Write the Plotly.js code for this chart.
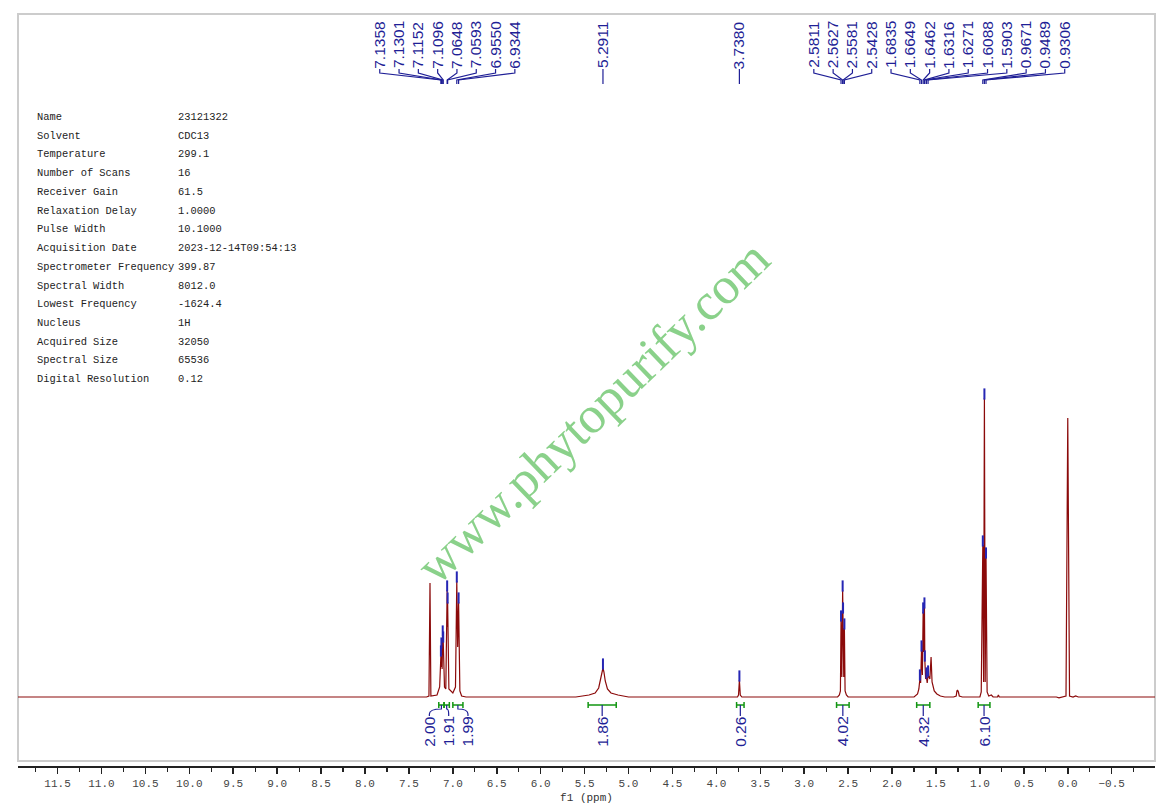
<!DOCTYPE html>
<html>
<head>
<meta charset="utf-8">
<script src="https://cdn.plot.ly/plotly-3.0.1.min.js"></script>
<style>
  html, body { margin: 0; padding: 0; background: #fff; }
  #chart { width: 1169px; height: 809px; }
</style>
</head>
<body>
<div id="chart"></div>
<script>
// spectrum vertices: chemical shift (ppm) and intensity
const shiftPpm = [
  11.95, 7.30, 7.272, 7.260, 7.250, 7.18, 7.150, 7.1358, 7.1325, 7.1301, 7.122, 7.1152, 7.1125, 7.1096,
  7.095, 7.08, 7.0648, 7.062, 7.0593, 7.045, 7.00, 6.970, 6.9550, 6.945, 6.9344, 6.920, 6.90, 6.85,
  5.60, 5.45, 5.38, 5.34, 5.315, 5.300, 5.2911, 5.28, 5.265, 5.24, 5.20, 5.12, 5.00,
  3.76, 3.748, 3.7380, 3.728, 3.71,
  2.62, 2.600, 2.588, 2.5811, 2.5720, 2.5627, 2.5604, 2.5581, 2.5500, 2.5428, 2.535, 2.52, 2.50,
  1.75, 1.71, 1.695, 1.6835, 1.675, 1.6649, 1.655, 1.6462, 1.639, 1.6316, 1.6271, 1.618, 1.6088,
  1.600, 1.5903, 1.570, 1.556, 1.545, 1.52, 1.49, 1.45, 1.40,
  1.30, 1.27, 1.262, 1.255, 1.245, 1.235, 1.20,
  1.00, 0.985, 0.9671, 0.958, 0.9489, 0.940, 0.9306, 0.918, 0.90, 0.87, 0.85, 0.80, 0.79, 0.78,
  0.13, 0.10, 0.07, 0.02, 0.00, -0.02, -0.06, -0.09, -0.12, -0.993
];
const intensity = [
  0, 0, 1, 114, 1, 2, 10, 42, 30, 50, 28, 62, 48, 56,
  10, 8, 107, 70, 95, 8, 4, 10, 116, 50, 95, 6, 1, 0,
  0, 2, 4, 9, 18, 26, 29, 25, 16, 8, 4, 2, 0,
  0, 2, 17, 2, 0,
  0, 2, 6, 77, 20, 107, 80, 85, 20, 69, 6, 2, 0,
  0, 3, 8, 18, 14, 47, 22, 85, 45, 90, 37, 18, 20,
  14, 22, 18, 40, 15, 6, 3, 1, 0,
  0, 1, 6, 7, 5, 1, 0,
  0, 5, 152, 15, 299, 15, 140, 5, 1, 2, 0, 0, 2, 0,
  0, -0.8, 0, 1, 279, 1, 0, 1, 0, 0
];

// peak picking labels, one list per multiplet
const peakGroups = [
  [7.1358, 7.1301, 7.1152, 7.1096, 7.0648, 7.0593, 6.9550, 6.9344],
  [5.2911],
  [3.7380],
  [2.5811, 2.5627, 2.5581, 2.5428],
  [1.6835, 1.6649, 1.6462, 1.6316, 1.6271, 1.6088, 1.5903],
  [0.9671, 0.9489, 0.9306]
];

// integrals
const integralFrom = [7.16, 7.10, 7.00, 5.46, 3.77, 2.632, 1.72, 1.02];
const integralTo = [7.10, 7.04, 6.885, 5.14, 3.685, 2.489, 1.57, 0.886];
const integralValue = ['2.00', '1.91', '1.99', '1.86', '0.26', '4.02', '4.32', '6.10'];

// acquisition parameters
const paramNames = ['Name', 'Solvent', 'Temperature', 'Number of Scans', 'Receiver Gain',
  'Relaxation Delay', 'Pulse Width', 'Acquisition Date', 'Spectrometer Frequency',
  'Spectral Width', 'Lowest Frequency', 'Nucleus', 'Acquired Size', 'Spectral Size',
  'Digital Resolution'];
const paramValues = ['23121322', 'CDC13', '299.1', '16', '61.5', '1.0000', '10.1000',
  '2023-12-14T09:54:13', '399.87', '8012.0', '-1624.4', '1H', '32050', '65536', '0.12'];

// page geometry
const W = 1169, H = 809;
const ml = 18, mr = 14, mt = 14, mb = 42;
const pw = W - ml - mr, ph = H - mt - mb;
const xRange = [11.95, -0.993];
const yDomainBottom = 6 / ph;
const yRange = [-64, 683];

const px = ppm => ml + pw * (xRange[0] - ppm) / (xRange[0] - xRange[1]);
const paperX = v => (v - ml) / pw;
const paperY = v => 1 - (v - mt) / ph;
const P = (x, y) => paperX(x).toFixed(5) + ',' + paperY(y).toFixed(5);

const blue = '#1f1f96';
const green = '#129612';
const gap = 19.3;

const shapes = [];
const annotations = [];

// frame
shapes.push({
  type: 'rect', xref: 'paper', yref: 'paper', x0: 0, x1: 1, y0: yDomainBottom, y1: 1,
  line: { color: '#cccccc', width: 2 }, layer: 'below'
});

// peak labels, spread per multiplet and pushed right when they would collide
let prevEnd = -Infinity;
const markX = [], markY = [];
peakGroups.forEach(group => {
  const ideal = group.map(px);
  const center = ideal.reduce((a, b) => a + b, 0) / ideal.length;
  let start = center - (group.length - 1) * gap / 2;
  if (start < prevEnd + gap) start = prevEnd + gap;
  group.forEach((ppm, i) => {
    const lx = start + i * gap;
    const tx = ideal[i];
    annotations.push({
      xref: 'paper', yref: 'paper', x: paperX(lx), y: paperY(45),
      text: ppm.toFixed(4), textangle: -90, showarrow: false,
      xanchor: 'center', yanchor: 'middle',
      font: { family: 'Liberation Sans, Arial, sans-serif', size: 15.5, color: blue }
    });
    shapes.push({
      type: 'path', xref: 'paper', yref: 'paper',
      path: 'M' + P(lx, 69) + ' L' + P(lx, 73) + ' L' + P(tx, 80) + ' L' + P(tx, 84),
      line: { color: blue, width: 1.2 }
    });
    const k = shiftPpm.indexOf(ppm);
    markX.push(ppm);
    markY.push((k >= 0 ? intensity[k] : 0) + 4);
  });
  prevEnd = start + (group.length - 1) * gap;
});

// integral labels: overlapping ones are merged into a centred cluster
const order = integralFrom.map((_, i) => i);
const clusters = [];
const clusterStart = c => c.ideal.reduce((a, b) => a + b, 0) / c.ideal.length - (c.ideal.length - 1) * gap / 2;
order.forEach(i => {
  const c = px((integralFrom[i] + integralTo[i]) / 2);
  clusters.push({ idx: [i], ideal: [c] });
  while (clusters.length > 1) {
    const a = clusters[clusters.length - 2], b = clusters[clusters.length - 1];
    const aEnd = clusterStart(a) + (a.ideal.length - 1) * gap;
    if (aEnd + gap > clusterStart(b)) {
      clusters.splice(clusters.length - 2, 2, { idx: a.idx.concat(b.idx), ideal: a.ideal.concat(b.ideal) });
    } else break;
  }
});
clusters.forEach(c => {
  const s = clusterStart(c);
  c.idx.forEach((i, j) => {
    const lx = s + j * gap;
    const x0 = px(integralFrom[i]), x1 = px(integralTo[i]);
    const cx = (x0 + x1) / 2;
    shapes.push({
      type: 'path', xref: 'paper', yref: 'paper',
      path: 'M' + P(x0, 702) + ' L' + P(x0, 708) + ' M' + P(x0, 705) + ' L' + P(x1, 705) +
            ' M' + P(x1, 702) + ' L' + P(x1, 708),
      line: { color: green, width: 1.5 }
    });
    shapes.push({
      type: 'path', xref: 'paper', yref: 'paper',
      path: 'M' + P(cx, 705) + ' L' + P(cx, 709) + ' Q' + P(lx, 709) + ' ' + P(lx, 714) + ' L' + P(lx, 716),
      line: { color: blue, width: 1.2 }
    });
    annotations.push({
      xref: 'paper', yref: 'paper', x: paperX(lx), y: paperY(731.5),
      text: integralValue[i], textangle: -90, showarrow: false,
      xanchor: 'center', yanchor: 'middle',
      font: { family: 'Liberation Sans, Arial, sans-serif', size: 15.5, color: blue }
    });
  });
});

// parameter table
paramNames.forEach((name, i) => {
  const y = paperY(117 + i * 18.73);
  annotations.push({
    xref: 'paper', yref: 'paper', x: paperX(35), y: y, xanchor: 'left', yanchor: 'middle',
    text: name, showarrow: false,
    font: { family: 'Liberation Mono, monospace', size: 10.4, color: '#222' }
  });
  annotations.push({
    xref: 'paper', yref: 'paper', x: paperX(176), y: y, xanchor: 'left', yanchor: 'middle',
    text: paramValues[i], showarrow: false,
    font: { family: 'Liberation Mono, monospace', size: 10.4, color: '#222' }
  });
});

// watermark
annotations.push({
  xref: 'paper', yref: 'paper', x: paperX(592), y: paperY(412),
  xanchor: 'center', yanchor: 'middle', text: 'www.phytopurify.com', textangle: -44,
  showarrow: false,
  font: { family: 'Liberation Serif, Times New Roman, serif', size: 52, color: '#8ad18a' }
});

const traces = [
  {
    x: shiftPpm, y: intensity, type: 'scatter', mode: 'lines',
    line: { color: '#8b0a0a', width: 1.2 }, hoverinfo: 'skip'
  },
  {
    x: markX, y: markY, type: 'scatter', mode: 'markers',
    marker: { symbol: 'line-ns-open', size: 8, color: '#2626b4', line: { width: 2 } },
    hoverinfo: 'skip'
  }
];

const layout = {
  width: W, height: H,
  margin: { l: ml, r: mr, t: mt, b: mb, pad: 0 },
  paper_bgcolor: '#fff', plot_bgcolor: '#fff',
  showlegend: false,
  xaxis: {
    range: xRange, anchor: 'free', position: 0,
    showline: true, linecolor: '#222', linewidth: 2,
    ticks: 'outside', ticklen: 6, tickwidth: 1.5, tickcolor: '#222',
    tick0: 0, dtick: 0.5, tickformat: '.1f',
    minor: { tick0: 0, dtick: 0.25, ticks: 'outside', ticklen: 4, tickwidth: 1.2, tickcolor: '#222', showgrid: false },
    showgrid: false, zeroline: false,
    tickfont: { family: 'Liberation Mono, monospace', size: 11, color: '#444' },
    title: { text: 'f1 (ppm)', standoff: 3, font: { family: 'Liberation Mono, monospace', size: 11, color: '#333' } }
  },
  yaxis: {
    domain: [yDomainBottom, 1], range: yRange, visible: false, fixedrange: true
  },
  shapes: shapes,
  annotations: annotations
};

Plotly.newPlot('chart', traces, layout, { staticPlot: true, displayModeBar: false });
</script>
</body>
</html>
